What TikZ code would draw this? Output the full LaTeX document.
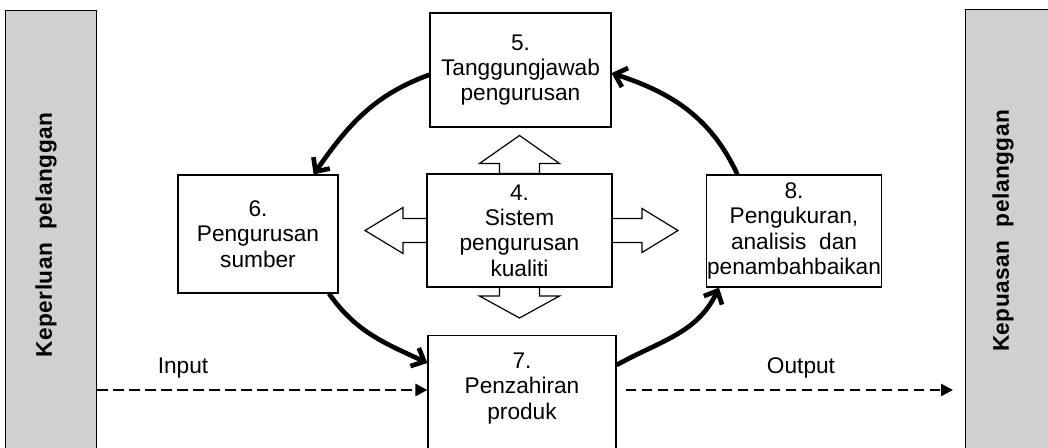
\documentclass[tikz,border=0pt]{standalone}
\usepackage{fontspec}
\setmainfont{Liberation Sans}
\usetikzlibrary{arrows.meta,calc}

\tikzset{every picture/.style={line width=0.75pt}}
\definecolor{barGray}{RGB}{208,208,208}

\begin{document}
\begin{tikzpicture}[x=0.75pt,y=0.75pt,yscale=-1,xscale=1,
  box/.style={draw, line width=0.9pt, align=center, inner sep=0.3pt, font=\fontsize{17}{19}\selectfont},
  txt/.style={align=center, inner sep=0.3pt, font=\fontsize{17}{19}\selectfont},
  sidebar/.style={draw, fill=barGray, line width=1pt, anchor=north west, minimum width=68pt, minimum height=337.5pt},
  sidetext/.style={rotate=90, inner sep=0pt, font=\fontsize{17}{20}\selectfont\bfseries\addfontfeature{LetterSpace=2}},
  hollow/.style={draw, fill=white, line width=0.9pt, line join=miter},
  cyc/.style={line width=3.5pt, -{Straight Barb[length=8pt,width=15pt]}},
  flow/.style={line width=2pt, dash pattern=on 8pt off 4pt, -{Triangle[length=9pt,width=9pt]}}
]
\useasboundingbox (0,0) rectangle (1048,448);

%Side bars
\node[sidebar] (lbar) at (5,10) {};
\node[sidebar] (rbar) at (965,9) {};
\node[sidetext] (lbartxt) at (46,235) {Keperluan~~pelanggan};
\node[sidetext] (rbartxt) at (1003,231) {Kepuasan~~pelanggan};

%Process boxes
\node[box, minimum width=135.75pt, minimum height=85.5pt] (duty) at (520.5,70) {5.\\Tanggungjawab\\pengurusan};
\node[box, minimum width=120pt, minimum height=88.5pt] (res) at (258,234) {6.\\Pengurusan\\sumber};
\node[box, minimum width=130.5pt, minimum height=84pt] (meas) at (794,231) {8.\\Pengukuran,\\analisis~~dan\\penambahbaikan};
\node[box, minimum width=141pt, minimum height=112.5pt, anchor=north] (prod) at (522,335) {};
\node[txt, anchor=north] (prodtxt) at ($(prod.north)+(0,17)$) {7.\\Penzahiran\\produk};

%Hollow arrows round the quality system
\coordinate (sysc) at (519.5,230.5);
\draw[hollow] ($(sysc)+(0,-57)$) ++(-20,0) -- ++(0,-10) -- ++(-20,0) -- ++(40,-28) -- ++(40,28) -- ++(-20,0) -- ++(0,10) -- cycle;
\draw[hollow] ($(sysc)+(0,56.5)$) ++(-20,0) -- ++(0,9) -- ++(-20,0) -- ++(40,22) -- ++(40,-22) -- ++(-20,0) -- ++(0,-9) -- cycle;
\draw[hollow] ($(sysc)+(92.5,0)$) ++(0,-12) -- ++(30,0) -- ++(0,-10) -- ++(36,22) -- ++(-36,22) -- ++(0,-10) -- ++(-30,0) -- cycle;
\draw[hollow] ($(sysc)+(-92.5,0)$) ++(0,-12) -- ++(-24,0) -- ++(0,-11) -- ++(-38,23) -- ++(38,23) -- ++(0,-11) -- ++(24,0) -- cycle;
\node[box, minimum width=138.75pt, minimum height=84.75pt] (sys) at (sysc) {4.\\Sistem\\pengurusan\\kualiti};

%Cycle arrows
\draw[cyc] (duty.183) to[out=160,in=305] (res.47);
\draw[cyc] (res.-40) to[out=55,in=205] ($(prod.north west)+(0,28)$);
\draw[cyc] ($(prod.north east)+(0,30)$) to[out=331,in=115] (meas.217);
\draw[cyc] (meas.135) to[out=245,in=18] (duty.358);

%Input and output
\coordinate (inlvl) at ($(prod.north west)+(0,55)$);
\coordinate (outlvl) at ($(prod.north east)+(9,55)$);
\draw[flow] (lbar.east |- inlvl) -- (inlvl);
\draw[flow] (outlvl) -- ($(rbar.west |- outlvl)+(-12,0)$);

% Text Node
\node[txt] (inlbl) at (183,368) {Input};
% Text Node
\node[txt] (outlbl) at (801,368) {Output};

\end{tikzpicture}
\end{document}
